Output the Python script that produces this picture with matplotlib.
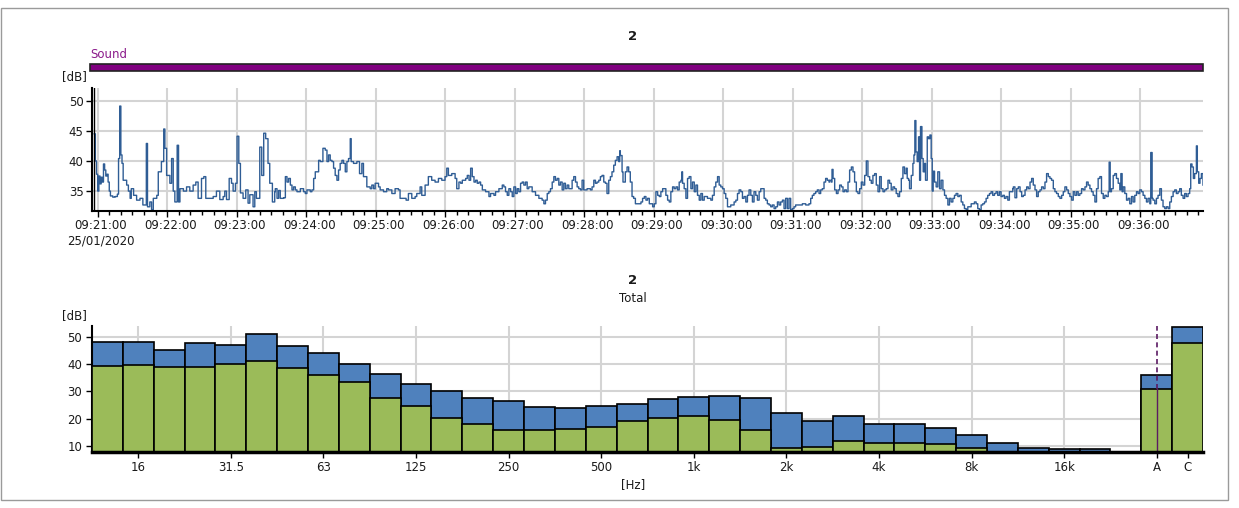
import numpy as np
import matplotlib
matplotlib.use('Agg')
import matplotlib.pyplot as plt
from matplotlib.patches import Rectangle
from matplotlib.ticker import MultipleLocator, FuncFormatter, NullFormatter
import matplotlib.transforms as mtransforms

# time history, seconds after 09:21:00 (25/01/2020)
T_SEC = [-3, -2, -1, 0, 1, 2, 3, 4, 5, 6, 7, 8, 9, 10, 11, 13, 15, 17, 18, 19,
         20, 21, 22, 25, 26.5, 28, 29, 31, 33.6, 36.5, 39, 42, 43, 45, 46.5, 48, 51, 52.3, 55, 57,
         58, 59.5, 62.3, 63.8, 65.2, 66.6, 68.6, 69.8, 71, 74, 76.7, 79.5, 82.4, 84.7, 86.7, 89.6, 91.6, 93.3, 96.8, 99.7,
         102.5, 105.4, 108.3, 109.7, 111.2, 113.5, 115.5, 116.9, 118.9, 120.3, 121.8, 123.2, 125.5, 127.8, 129.8, 131.3, 134.1, 135.6, 137, 139.9,
         141.6, 143.3, 145, 147, 148.5, 150.8, 152.8,
         153.3, 154.8, 156.2, 157.6, 160.5, 162, 163.4, 164.8, 166.3, 167.7, 169.1, 170.6, 172, 174.9, 177.7, 179.2, 180.6, 183.5, 184.9, 186.4,
         187.8, 190.7, 192.1, 194.4, 196.4, 197.9, 199.3, 200.7, 202.2, 203.6, 205, 206.5, 207.9, 209.3, 210.8, 212.2, 213.7, 215.1, 216.5, 218,
         218.8, 220.8, 223.7, 226, 228, 229.4, 232.3, 235.2, 236.6, 238.1, 239.5, 242.4, 243.8, 246.7, 249.5, 251, 253.9, 256.7, 259.6, 261,
         263.9, 266.2, 268.2, 271.1, 274, 275.4, 278.3, 279.7, 282.6, 285.4, 288.3, 291.2, 294.1, 297, 299.8, 301.3, 302.7, 305.6, 308.5, 309.9,
         311.8, 313.3, 314.7, 317.6, 319, 320.5, 321.9, 323.3, 324.8, 326.2, 327.6, 329.1, 330.5, 332, 334.8, 337.7, 339.1, 342, 343.4, 344.9,
         346.3, 349.2, 350.6, 352, 353.5, 354.9, 356.4, 357.8, 359.2, 360.7, 362.1, 363.5, 365, 366.4, 367.8, 369.3, 370.7, 372.1, 373.6, 375,
         377.9, 380.8, 383.6, 385.1, 386.5, 388, 389.4, 390.8, 392.3, 393.7, 395.1, 396.6, 398, 399.4, 400.9, 402.3, 403.7, 405.2, 406.6, 409.5,
         410.9, 412.4, 413.8, 415.2, 416.7, 418.1, 419.5, 422.4, 425.3, 426.7, 428.2, 429.6, 431, 432.5, 433.9, 435.3, 436.8, 438.2, 439.6, 441.1,
         442.5, 443.9, 445.4, 446.8, 448.3, 449.7, 450.6, 451.1, 452.6, 453.4, 455.4, 456.9, 458.3, 459.7, 461.2, 462.6, 464.1, 466.9,
         468.9, 470.3, 471.8, 473.2, 474.6, 476.1, 479, 480.4, 481.8, 483.3, 484.7, 486.1, 487.6, 489, 490.4, 491.9, 493.3, 494.7, 496.2, 497.6,
         499.1, 500.5, 501.9, 503.4, 504.2, 504.8, 506.2, 507.7, 509.1, 510.5, 512, 513.4, 514.9, 516.3, 517.7, 519.2, 520.6, 522, 523.5, 526.3,
         529.2, 530.6, 532.1, 533.5, 535, 536.4, 537.8, 539.3, 540.7, 542.1, 543.6, 546.4, 549.3, 550.8, 552.2, 553.6, 555.1, 556.5, 557.9, 559.4,
         560.8, 562.2, 563.7, 565.1, 566.5, 568, 569.4, 570.9, 572.3, 573.7, 575.2, 576.6, 578, 579.5, 580.9, 582.3, 583.8, 585.2, 586.7, 588.1,
         589.5, 591, 592.4, 593.8, 595.3, 596.7, 598.1, 599.6, 601, 602.4, 605.3, 608.2, 611.1, 613.9, 615.4, 616.8, 618.2, 619.7, 621.1, 622.6,
         624, 625.4, 626.9, 628.3, 629.7, 631.2,
         631.8, 633.2, 633.8, 634.7, 636.1, 637.6, 639, 640.4, 641.9, 643.3, 644.7, 646.2, 647.6, 649, 650.5, 651.9, 653.3, 654.8, 656.2, 657.7,
         659.1, 660.5, 662, 663.4, 664.8, 666.3, 667.7, 669.1, 670.6, 672, 673.5, 674.9, 676.3, 677.8, 679.2, 680.6, 682.1, 683.5, 684.9, 686.4,
         687.8, 689.2, 690.7, 692.1, 693.6, 695, 696.4, 697.9, 698.7, 699.9, 700.7, 702.2, 703.6, 704.5, 705.3, 706.2, 707.3, 708.5, 709.4, 710.2,
         711.4, 712.5, 713.7, 714.5, 716, 717.1, 718.3, 719.4, 720.3, 721.1, 722.3, 723.7, 725.1, 726.6, 728, 729.5, 730.9, 732.3, 733.8, 735.2,
         736.6, 738.1, 739.5, 740.9, 742.4, 743.8, 745.3, 746.7, 748.1, 749.6, 751, 753.9, 756.7, 758.2, 759.6, 761, 762.5, 763.9, 765.4, 766.8,
         768.2, 769.7, 771.1, 772.5, 774, 775.4, 776.8, 778.3, 779.7, 781.2, 782.6, 784, 785.5, 786.9, 788.3, 789.8,
         790.3, 791.7, 793.2, 794.6, 796.1, 797.5, 798.9, 800.4, 801.8, 803.2, 804.7, 806.1, 807.5, 809, 810.4, 811.8, 813.3, 814.7, 816.2, 817.6,
         819, 820.5, 821.9, 823.3, 824.8, 826.2, 827.6, 829.1, 830.5, 832, 833.4, 834.8, 836.3, 837.7, 839.1, 840.6, 842, 843.4, 844.9, 846.3,
         847.7, 849.2, 850.6, 852.1, 853.5, 854.9, 856.4, 857.8, 859.2, 860.7, 862.1, 863.5, 865, 866.4, 867.9, 869.3, 870.7, 872.2, 873, 873.9,
         875, 876.5, 877.9, 879.3, 880.8, 882.2, 883.1, 884.2, 885.1, 886.5, 888, 889.4, 890.8, 892.3, 893.7, 895.1, 896.6, 898, 899.4, 900.9,
         902.3, 903.8, 905.2, 906.6, 908.1, 908.9, 910.1, 910.9, 912.4, 913.8, 915.2, 916.7, 918.1, 919.5, 921, 922.4, 923.9, 925.3, 926.7, 928.2,
         929.6, 931, 932.5, 933.9, 935.3, 936.8, 938.2, 939.6, 941.1, 942.5, 943.4, 944.5, 945.7, 946.8, 948.3, 949.1, 950.3, 951.4, 952.6, 954]
LEVEL_DB = [44.5, 40.0, 37.8, 35.0, 37.5, 36.2, 37.3, 36.5, 39.5, 38.5, 37.5, 37.8, 36.5, 35.0, 34.2, 34.0, 34.1, 34.5, 40.4, 49.1,
            41.0, 39.6, 36.8, 36.0, 35.0, 33.8, 35.4, 34.3, 33.5, 33.8, 32.7, 42.9, 32.4, 33.2, 31.9, 33.8, 34.3, 38.2, 39.9, 45.3,
            42.1, 37.6, 36.3, 40.4, 35.0, 33.2, 42.6, 33.2, 35.4, 35.0, 35.7, 35.0, 36.0, 36.5, 33.8, 37.1, 37.4, 33.8, 33.8, 34.1,
            35.0, 33.6, 34.1, 35.0, 33.6, 37.1, 36.3, 35.0, 36.3, 44.1, 39.6, 34.7, 33.8, 35.2, 33.0, 34.4, 32.4, 34.9, 33.8, 42.3,
            37.6, 44.6, 43.7, 39.6, 36.3, 33.2, 34.9,
            35.4, 33.8, 35.1, 33.8, 33.9, 37.4, 36.5, 37.1, 36.0, 35.2, 35.7, 35.2, 34.9, 35.4, 34.9, 34.6, 35.2, 34.9, 35.2, 37.1,
            38.2, 40.1, 39.9, 42.1, 41.8, 39.9, 41.0, 40.1, 39.9, 38.8, 37.6, 36.8, 38.5, 39.6, 40.1, 39.6, 38.2, 39.9, 40.4, 43.7,
            39.9, 39.6, 39.9, 37.9, 39.6, 37.4, 35.7, 35.4, 36.0, 35.4, 36.3, 35.7, 35.2, 34.9, 35.4, 35.2, 34.6, 35.4, 35.2, 33.8,
            33.8, 33.5, 34.6, 33.8, 34.1, 34.6, 35.7, 34.3, 36.0, 37.4, 36.8, 36.5, 37.1, 36.8, 37.4, 38.8, 37.6, 37.9, 37.1, 35.4,
            36.5, 36.3, 36.8, 37.1, 37.6, 36.8, 38.8, 37.4, 36.5, 36.8, 36.3, 36.5, 36.0, 35.2, 34.9, 34.1, 34.6, 34.3, 34.9, 34.9,
            35.4, 36.0, 35.7, 34.9, 34.3, 35.4, 34.9, 34.1, 35.7, 34.6, 35.4, 34.9, 36.3, 36.5, 36.0, 36.5, 35.4, 35.7, 35.7, 34.9,
            34.3, 33.8, 33.5, 32.9, 33.5, 34.6, 34.9, 35.4, 36.5, 37.4, 36.8, 37.1, 36.0, 36.5, 35.2, 36.3, 35.4, 36.0, 35.4, 36.8,
            37.4, 36.5, 35.7, 35.4, 35.2, 36.8, 35.2, 35.4, 35.2, 35.7, 36.8, 36.3, 36.5, 36.8, 37.4, 37.6, 36.5, 36.3, 34.6, 36.8,
            37.4, 38.2, 39.3, 40.1, 40.7, 39.9, 41.7, 40.9, 38.2, 36.5, 38.2, 39.0, 38.2, 36.5, 34.1, 33.8, 32.9, 32.9,
            33.2, 33.8, 34.1, 33.5, 33.8, 32.9, 32.4, 32.9, 34.9, 34.3, 34.1, 34.9, 35.4, 35.4, 34.3, 33.5, 33.2, 34.9, 35.7, 35.4,
            35.7, 35.2, 36.5, 36.8, 38.2, 36.3, 35.4, 33.8, 37.1, 37.4, 35.4, 36.5, 34.9, 36.0, 34.3, 33.5, 34.6, 33.5, 34.1, 33.8,
            33.5, 34.3, 35.7, 36.5, 37.4, 36.0, 35.7, 35.4, 34.6, 33.8, 32.4, 32.7, 33.2, 33.5, 34.6, 35.2, 34.9, 33.8, 34.1, 33.2,
            34.3, 35.2, 34.3, 33.2, 34.9, 34.3, 33.5, 34.9, 35.4, 35.4, 33.8, 33.5, 32.9, 32.7, 32.4, 32.7, 32.1, 32.4, 33.2, 32.7,
            33.2, 33.5, 32.1, 33.8, 32.1, 33.8, 31.9, 32.1, 32.4, 32.7, 32.7, 32.9, 32.7, 32.9, 33.8, 34.3, 34.6, 34.9, 35.2, 34.6,
            35.2, 35.4, 36.5, 37.1, 36.8, 36.5,
            36.8, 36.5, 38.6, 37.1, 35.2, 34.6, 35.2, 36.0, 35.7, 34.9, 35.2, 34.9, 36.5, 38.5, 39.0, 38.2, 36.5, 34.9, 34.6, 35.4,
            36.5, 36.0, 37.6, 40.0, 37.4, 36.8, 36.3, 37.6, 37.9, 36.0, 34.9, 37.4, 35.4, 34.9, 35.2, 35.4, 36.8, 36.3, 35.2, 35.7,
            35.4, 34.6, 34.1, 34.9, 37.1, 39.0, 37.9, 38.8, 37.1, 36.8, 35.4, 37.6, 39.6, 41.0, 46.7, 41.5, 39.9, 44.0, 36.8, 45.7,
            40.4, 38.2, 39.6, 36.8, 44.0, 43.7, 44.3, 40.4, 35.0, 38.3, 36.5, 35.7, 38.2, 35.4, 36.8, 35.2, 34.3, 33.8, 32.7, 33.8,
            33.2, 33.8, 34.3, 34.6, 34.1, 34.3, 33.2, 32.7, 32.1, 31.9, 32.4, 32.9, 33.2, 32.9, 32.1, 31.9, 32.7, 32.9, 33.2, 33.8,
            34.3, 34.6, 34.9, 34.3, 34.6, 34.9, 34.3, 34.9, 34.1, 34.3, 33.8, 34.1, 33.5, 34.9, 34.9, 35.4,
            35.7, 33.9, 35.4, 35.7, 34.9, 34.1, 34.3, 35.2, 35.7, 35.4, 36.5, 37.1, 36.0, 35.2, 34.1, 34.9, 35.2, 35.7, 35.4, 36.5,
            37.9, 37.4, 37.1, 36.8, 35.4, 34.9, 34.6, 34.1, 33.8, 34.3, 34.9, 35.7, 35.2, 34.6, 34.1, 33.5, 34.9, 34.3, 34.9, 34.3,
            34.6, 35.4, 35.2, 35.7, 36.5, 36.0, 35.4, 34.9, 34.3, 33.2, 35.4, 37.1, 37.4, 34.6, 33.8, 34.3, 34.1, 34.9, 39.8, 34.9,
            35.4, 37.6, 37.9, 37.1, 36.3, 35.2, 37.9, 34.9, 35.7, 34.6, 33.5, 33.8, 32.9, 34.1, 33.2, 34.3, 34.9, 34.6, 35.2, 34.9,
            34.3, 33.8, 33.2, 33.8, 32.9, 41.4, 33.8, 33.5, 32.9, 33.8, 34.3, 35.4, 33.5, 32.4, 32.1, 32.4, 32.1, 33.2, 34.1, 34.9,
            35.2, 34.6, 34.9, 35.4, 34.3, 33.8, 34.6, 34.1, 34.6, 35.4, 39.5, 39.0, 37.1, 37.9, 42.5, 38.2, 36.3, 37.1, 37.9, 36.0]

# 1/3 octave spectrum
BANDS = ['12.5', '16', '20', '25', '31.5', '40', '50', '63', '80', '100', '125', '160', '200',
         '250', '315', '400', '500', '630', '800', '1k', '1.25k', '1.6k', '2k', '2.5k', '3.15k',
         '4k', '5k', '6.3k', '8k', '10k', '12.5k', '16k', '20k']
BAND_HIGH = [48.2, 48.2, 45.0, 47.7, 47.1, 50.9, 46.5, 44.0, 40.2, 36.4, 32.8, 30.2, 27.6,
             26.5, 24.3, 23.8, 24.5, 25.4, 27.0, 27.8, 28.1, 27.6, 22.1, 19.0, 21.1,
             18.0, 18.0, 16.5, 13.9, 11.1, 9.2, 8.7, 8.7]
BAND_LOW = [39.2, 39.7, 39.0, 39.1, 40.1, 41.2, 38.6, 35.9, 33.4, 27.6, 24.5, 20.2, 18.0,
            15.9, 15.9, 16.3, 16.9, 19.1, 20.1, 20.8, 19.6, 15.8, 9.0, 9.5, 11.7,
            11.1, 11.1, 10.7, 9.0, 7.5, 7.0, 6.5, 6.0]
TOTAL_LABELS = ['A', 'C']
TOTAL_HIGH = [35.9, 53.5]
TOTAL_LOW = [30.8, 47.8]
FREQ_TICKS = ['16', '31.5', '63', '125', '250', '500', '1k', '2k', '4k', '8k', '16k']

BLUE = '#4f81bd'
GREEN = '#9bbb59'
LINE = '#2f5d95'
GRID = '#d4d4d4'
TXT = '#1a1a1a'

fig = plt.figure(figsize=(12.39, 5.08), dpi=100)
fig.patch.set_facecolor('white')

def fx(px):
    return px / 1239.0

def fy(py):
    return 1 - py / 508.0

# outer frame of the report panel
fig.add_artist(Rectangle((fx(0.5), fy(500)), fx(1228) - fx(0.5), fy(8) - fy(500),
                         transform=fig.transFigure, facecolor='none', edgecolor='#9a9a9a', linewidth=1.0))

# ---- top: time history ----
ax1 = fig.add_axes([fx(92), fy(211), fx(1203) - fx(92), fy(88.3) - fy(211)])
ax1.plot(T_SEC, LEVEL_DB, drawstyle='steps-post', color=LINE, linewidth=1.0)
ax1.axvline(-3, color='black', linewidth=1.0)
ax1.set_xlim(-4.9, 954)
ax1.set_ylim(31.7, 52.05)
ax1.set_yticks([35, 40, 45, 50])
ax1.xaxis.set_major_locator(MultipleLocator(60))
ax1.xaxis.set_minor_locator(MultipleLocator(10))

def time_label(v, pos):
    s = int(round(v))
    lab = '09:%02d:%02d' % (21 + s // 60, s % 60)
    if s == 0:
        lab += '\n25/01/2020'
    return lab

ax1.xaxis.set_major_formatter(FuncFormatter(time_label))
ax1.xaxis.set_minor_formatter(NullFormatter())
ax1.grid(True, which='major', color=GRID, linewidth=1.5)
ax1.set_axisbelow(True)
for s in ['top', 'right']:
    ax1.spines[s].set_visible(False)
for s in ['left', 'bottom']:
    ax1.spines[s].set_color('black')
    ax1.spines[s].set_linewidth(1.5)
ax1.tick_params(axis='both', which='major', direction='out', length=4, width=1, colors='black',
                labelcolor=TXT, labelsize=8.5, pad=2)
ax1.tick_params(axis='x', which='minor', direction='out', length=3, width=1, colors='black')
shift = mtransforms.ScaledTranslation(3 / 100.0, 0, fig.dpi_scale_trans)
for lab in ax1.get_xticklabels():
    lab.set_transform(lab.get_transform() + shift)

# ---- bottom: spectrum ----
ax2 = fig.add_axes([fx(92), fy(451.7), fx(1203) - fx(92), fy(326) - fy(451.7)])
nb = len(BANDS)
xb = np.arange(nb) + 0.5
xt = np.array([nb + 1, nb + 2]) + 0.5
ax2.bar(xb, BAND_HIGH, width=1.0, color=BLUE, edgecolor='black', linewidth=1.2, zorder=2)
ax2.bar(xb, BAND_LOW, width=1.0, color=GREEN, edgecolor='black', linewidth=1.2, zorder=3)
ax2.bar(xt, TOTAL_HIGH, width=1.0, color=BLUE, edgecolor='black', linewidth=1.2, zorder=2)
ax2.bar(xt, TOTAL_LOW, width=1.0, color=GREEN, edgecolor='black', linewidth=1.2, zorder=3)
ax2.set_xlim(0, nb + 3)
ax2.set_ylim(7.8, 54)
ax2.set_yticks([10, 20, 30, 40, 50])
tick_pos = [BANDS.index(b) + 0.5 for b in FREQ_TICKS] + list(xt)
ax2.set_xticks(tick_pos)
ax2.set_xticklabels(FREQ_TICKS + TOTAL_LABELS)
ax2.grid(True, axis='y', color=GRID, linewidth=1.5, zorder=0)
for p in tick_pos[:len(FREQ_TICKS)]:
    ax2.axvline(p, color=GRID, linewidth=1.5, zorder=0)
ax2.set_axisbelow(True)
# cursor on A
ax2.plot([xt[0], xt[0]], [TOTAL_LOW[0], 54], color='#5b1a63', linestyle=(0, (3, 2)), linewidth=1.2, zorder=5)
ax2.plot([xt[0], xt[0]], [7.8, TOTAL_LOW[0]], color='#5b1a63', linewidth=1.0, zorder=5)
for s in ['top', 'right']:
    ax2.spines[s].set_visible(False)
ax2.spines['left'].set_color('black')
ax2.spines['left'].set_linewidth(1.5)
ax2.spines['bottom'].set_color('black')
ax2.spines['bottom'].set_linewidth(2.5)
ax2.spines['bottom'].set_zorder(6)
ax2.tick_params(axis='both', direction='out', length=4, width=1, colors='black',
                labelcolor=TXT, labelsize=8.5, pad=3)

# ---- texts and header bar ----
fig.text(fx(633), fy(37), '2', ha='center', va='center', fontsize=9.5, fontweight='bold', color=TXT)
fig.text(fx(90), fy(55), 'Sound', ha='left', va='center', fontsize=8.5, color='#8b1a8b')
fig.add_artist(Rectangle((fx(90), fy(70.7)), fx(1203) - fx(90), fy(64) - fy(70.7),
                         transform=fig.transFigure, facecolor='#800080', edgecolor='#222222', linewidth=1.2))
fig.text(fx(62), fy(77), '[dB]', ha='left', va='center', fontsize=8.5, color=TXT)
fig.text(fx(633), fy(281), '2', ha='center', va='center', fontsize=9.5, fontweight='bold', color=TXT)
fig.text(fx(633), fy(299), 'Total', ha='center', va='center', fontsize=8.5, color=TXT)
fig.text(fx(62), fy(316), '[dB]', ha='left', va='center', fontsize=8.5, color=TXT)
fig.text(fx(633), fy(485), '[Hz]', ha='center', va='center', fontsize=8.5, color=TXT)

fig.savefig('out.png', dpi=100)
